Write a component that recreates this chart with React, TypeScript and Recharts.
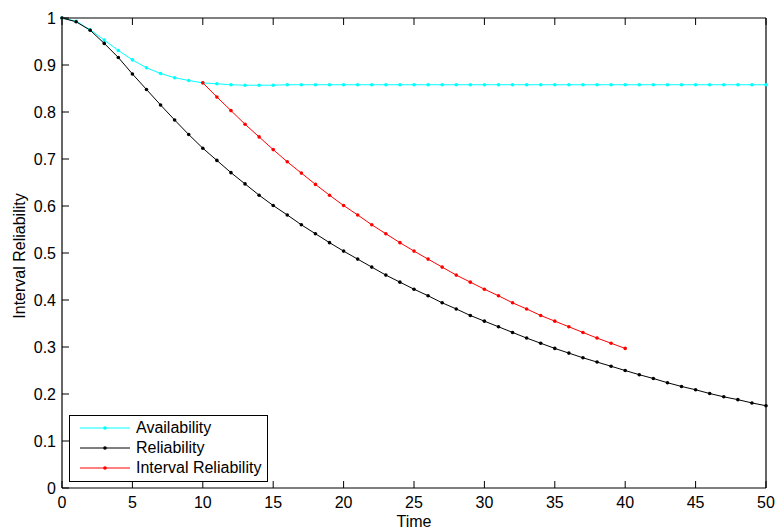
import React from 'react'
import {
  LineChart,
  Line,
  XAxis,
  YAxis,
  Legend,
} from 'recharts'

const time = [
  0, 1, 2, 3, 4, 5, 6, 7, 8, 9, 10, 11, 12, 13, 14, 15, 16, 17, 18, 19, 20,
  21, 22, 23, 24, 25, 26, 27, 28, 29, 30, 31, 32, 33, 34, 35, 36, 37, 38, 39, 40,
  41, 42, 43, 44, 45, 46, 47, 48, 49, 50,
]

const availability = [
  1.0, 0.993, 0.975, 0.953, 0.931, 0.911, 0.894, 0.882, 0.873, 0.867, 0.862,
  0.86, 0.858, 0.857, 0.857, 0.857, 0.858, 0.858, 0.858, 0.858, 0.858,
  0.858, 0.858, 0.858, 0.858, 0.858, 0.858, 0.858, 0.858, 0.858, 0.858,
  0.858, 0.858, 0.858, 0.858, 0.858, 0.858, 0.858, 0.858, 0.858, 0.858,
  0.858, 0.858, 0.858, 0.858, 0.858, 0.858, 0.858, 0.858, 0.858, 0.858,
]

const reliability = [
  1.0, 0.992, 0.974, 0.946, 0.916, 0.881, 0.848, 0.815, 0.783, 0.752, 0.723,
  0.697, 0.671, 0.647, 0.623, 0.601, 0.581, 0.56, 0.541, 0.522, 0.504,
  0.487, 0.47, 0.453, 0.438, 0.423, 0.409, 0.394, 0.381, 0.367, 0.355,
  0.343, 0.331, 0.319, 0.308, 0.297, 0.287, 0.277, 0.268, 0.259, 0.25,
  0.241, 0.233, 0.224, 0.216, 0.209, 0.201, 0.194, 0.188, 0.181, 0.175,
]

const intervalReliability = [
  null, null, null, null, null, null, null, null, null, null, 0.862,
  0.832, 0.803, 0.774, 0.747, 0.72, 0.694, 0.67, 0.646, 0.623, 0.601,
  0.581, 0.56, 0.541, 0.522, 0.504, 0.487, 0.47, 0.453, 0.438, 0.423,
  0.409, 0.394, 0.381, 0.367, 0.355, 0.343, 0.331, 0.319, 0.308, 0.297,
  null, null, null, null, null, null, null, null, null, null,
]

const xTicks = [0, 5, 10, 15, 20, 25, 30, 35, 40, 45, 50]
const yTicks = [0, 0.1, 0.2, 0.3, 0.4, 0.5, 0.6, 0.7, 0.8, 0.9, 1]

const series = [
  { key: 'availability', name: 'Availability', color: '#00FFFF' },
  { key: 'reliability', name: 'Reliability', color: '#000000' },
  { key: 'interval', name: 'Interval Reliability', color: '#FF0000' },
]

const data = time.map((t, i) => ({
  t,
  availability: availability[i],
  reliability: reliability[i],
  interval: intervalReliability[i],
}))

const FONT = '"Liberation Sans", Arial, Helvetica, sans-serif'
const tickStyle = { fontSize: 16, fill: '#000', fontFamily: FONT }
const axisLine = { stroke: '#000', strokeWidth: 1.2 }

const YLabel = (props: any) => {
  const { viewBox } = props
  const cx = viewBox.x + 19
  const cy = viewBox.y + viewBox.height / 2 + 3
  return (
    <text
      x={cx}
      y={cy}
      transform={`rotate(-90 ${cx} ${cy})`}
      textAnchor="middle"
      dominantBaseline="central"
      fontSize={16}
      fontFamily={FONT}
      fill="#000"
    >
      Interval Reliability
    </text>
  )
}

const LegendBox = () => (
  <div
    style={{
      border: '1px solid #000',
      background: '#fff',
      width: 199,
      height: 67,
      fontFamily: FONT,
      fontSize: 16,
      paddingTop: 2,
      boxSizing: 'border-box',
    }}
  >
    {series.map((s) => (
      <div key={s.key} style={{ display: 'flex', alignItems: 'center', height: 20 }}>
        <svg width={66} height={20} style={{ display: 'block' }}>
          <line x1={10} y1={10} x2={60} y2={10} stroke={s.color} strokeWidth={1} />
          <circle cx={35} cy={10} r={1.8} fill={s.color} />
        </svg>
        <span style={{ color: '#000', whiteSpace: 'nowrap' }}>{s.name}</span>
      </div>
    ))}
  </div>
)

export default function App() {
  return (
    <div style={{ position: 'absolute', left: 0, top: 0, background: '#fff' }}>
      <LineChart
        width={777}
        height={532}
        data={data}
        margin={{ top: 8, right: 1, bottom: 0, left: 0 }}
      >
        <XAxis
          dataKey="t"
          type="number"
          domain={[0, 50]}
          ticks={xTicks}
          axisLine={axisLine}
          tickLine={{ stroke: '#000' }}
          tickSize={-7}
          tickMargin={16}
          tick={tickStyle}
          height={44}
          label={{
            value: 'Time',
            position: 'insideBottom',
            offset: 5,
            fontSize: 16,
            fill: '#000',
            fontFamily: FONT,
          }}
        />
        <XAxis
          xAxisId="top"
          orientation="top"
          dataKey="t"
          type="number"
          domain={[0, 50]}
          ticks={xTicks}
          axisLine={axisLine}
          tickLine={{ stroke: '#000' }}
          tickSize={-7}
          tickFormatter={() => ''}
          height={10}
        />
        <YAxis
          type="number"
          domain={[0, 1]}
          ticks={yTicks}
          axisLine={axisLine}
          tickLine={{ stroke: '#000' }}
          tickSize={-7}
          tickMargin={13}
          tick={tickStyle}
          width={62}
          label={<YLabel />}
        />
        <YAxis
          yAxisId="right"
          orientation="right"
          type="number"
          domain={[0, 1]}
          ticks={yTicks}
          axisLine={axisLine}
          tickLine={{ stroke: '#000' }}
          tickSize={-7}
          tickFormatter={() => ''}
          width={10}
        />
        <Legend
          layout="vertical"
          align="center"
          verticalAlign="middle"
          content={<LegendBox />}
          wrapperStyle={{ left: 69, top: 415, width: 199, height: 67 }}
        />
        {series.map((s) => (
          <Line
            key={s.key}
            type="linear"
            dataKey={s.key}
            name={s.name}
            stroke={s.color}
            strokeWidth={1}
            dot={{ r: 1.8, fill: s.color, stroke: 'none' }}
            activeDot={false}
            isAnimationActive={false}
          />
        ))}
      </LineChart>
    </div>
  )
}
